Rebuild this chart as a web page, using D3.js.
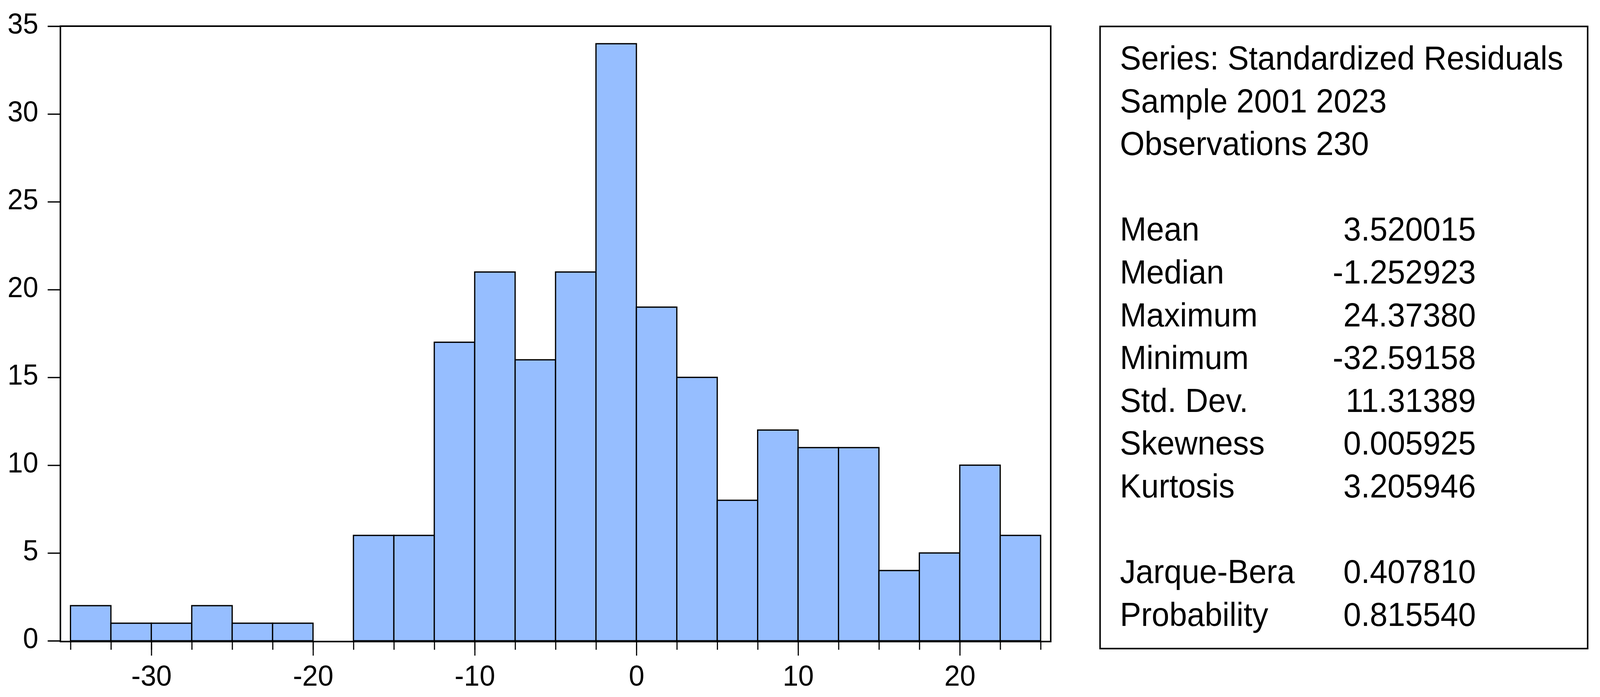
<!DOCTYPE html>
<html>
<head>
<meta charset="utf-8">
<script src="https://cdn.jsdelivr.net/npm/d3@7"></script>
<style>
  html, body { margin: 0; padding: 0; background: #fff; overflow: hidden; }
  #chart { width: 100vw; height: 100vh; }
  svg { display: block; font-family: "Liberation Sans", Arial, sans-serif; }
</style>
</head>
<body>
<div id="chart"></div>
<script>
// histogram bins (lower edge of each bin, width 2.5) and counts
const binStarts = [-35, -32.5, -30, -27.5, -25, -22.5, -20, -17.5, -15, -12.5, -10, -7.5,
                   -5, -2.5, 0, 2.5, 5, 7.5, 10, 12.5, 15, 17.5, 20, 22.5];
const binWidth = 2.5;
const counts = [2, 1, 1, 2, 1, 1, 0, 6, 6, 17, 21, 16,
                21, 34, 19, 15, 8, 12, 11, 11, 4, 5, 10, 6];

const yTicks = [0, 5, 10, 15, 20, 25, 30, 35];
const xMajorTicks = [-30, -20, -10, 0, 10, 20];
const xMinorTicks = [-35, -32.5, -30, -27.5, -25, -22.5, -20, -17.5, -15, -12.5, -10, -7.5,
                     -5, -2.5, 0, 2.5, 5, 7.5, 10, 12.5, 15, 17.5, 20, 22.5, 25];

// statistics panel
const headerLines = ["Series: Standardized Residuals", "Sample 2001 2023", "Observations 230"];
const statLabels = ["Mean", "Median", "Maximum", "Minimum", "Std. Dev.", "Skewness", "Kurtosis"];
const statValues = ["3.520015", "-1.252923", "24.37380", "-32.59158", "11.31389", "0.005925", "3.205946"];
const testLabels = ["Jarque-Bera", "Probability"];
const testValues = ["0.407810", "0.815540"];

const W = 4279, H = 1785;
const barColor = "#96beff";

// drawn in a fixed 4279x1785 coordinate space, stretched to the window
const svg = d3.select("#chart").append("svg")
    .attr("width", "100%")
    .attr("height", "100%")
    .attr("viewBox", `0 0 ${W} ${H}`)
    .attr("preserveAspectRatio", "none");

svg.append("rect").attr("width", W).attr("height", H).attr("fill", "#fff");

const x = d3.scaleLinear().domain([-35, 25]).range([188.5, 2783]);
const y = d3.scaleLinear().domain([0, 35]).range([1641, 67]);

const frameLeft = x(-35) - 27;
const frameRight = x(25) + 27;
const frameTop = y(35);
const frameBottom = y(0) + 2;

// bars
svg.append("g")
    .selectAll("rect")
    .data(binStarts.map((s, i) => ({ start: s, count: counts[i] })).filter(d => d.count > 0))
    .enter()
    .append("rect")
    .attr("x", d => x(d.start))
    .attr("width", d => x(d.start + binWidth) - x(d.start))
    .attr("y", d => y(d.count))
    .attr("height", d => y(0) - y(d.count))
    .attr("fill", barColor)
    .attr("stroke", "#000")
    .attr("stroke-width", 3.3);

// frame
svg.append("rect")
    .attr("x", frameLeft)
    .attr("y", frameTop)
    .attr("width", frameRight - frameLeft)
    .attr("height", frameBottom - frameTop)
    .attr("fill", "none")
    .attr("stroke", "#000")
    .attr("stroke-width", 4);

// y axis
const yAxis = svg.append("g")
    .attr("transform", `translate(${frameLeft},0)`)
    .call(d3.axisLeft(y).tickValues(yTicks).tickSize(34).tickPadding(25));
yAxis.select(".domain").remove();
yAxis.selectAll("line").attr("stroke-width", 3.3);
yAxis.selectAll("text")
    .attr("font-size", 74)
    .attr("font-family", "Liberation Sans, Arial, sans-serif")
    .attr("fill", "#000")
    .attr("dy", "0.25em");

// x axis: minor ticks at bin edges, major ticks with labels
const xMinor = svg.append("g")
    .attr("transform", `translate(0,${frameBottom})`)
    .call(d3.axisBottom(x).tickValues(xMinorTicks).tickSize(21).tickFormat(""));
xMinor.select(".domain").remove();
xMinor.selectAll("line").attr("stroke-width", 3);

const xMajor = svg.append("g")
    .attr("transform", `translate(0,${frameBottom})`)
    .call(d3.axisBottom(x).tickValues(xMajorTicks).tickSize(36).tickPadding(24));
xMajor.select(".domain").remove();
xMajor.selectAll("line").attr("stroke-width", 3);
xMajor.selectAll("text")
    .attr("font-size", 75)
    .attr("font-family", "Liberation Sans, Arial, sans-serif")
    .attr("fill", "#000")
    .text(d => d < 0 ? "-" + Math.abs(d) : d);

// stats box
const boxLeft = 2942, boxRight = 4246, boxTop = 67.7, boxBottom = 1661;
svg.append("rect")
    .attr("x", boxLeft)
    .attr("y", boxTop)
    .attr("width", boxRight - boxLeft)
    .attr("height", boxBottom - boxTop)
    .attr("fill", "#fff")
    .attr("stroke", "#000")
    .attr("stroke-width", 4);

const textLeft = 2995, valueRight = 3947;
const firstBaseline = 178, lineStep = 109.6;
const fontSize = 85;

const rows = [];
headerLines.forEach(t => rows.push({ label: t, value: "" }));
rows.push(null);
statLabels.forEach((t, i) => rows.push({ label: t, value: statValues[i] }));
rows.push(null);
testLabels.forEach((t, i) => rows.push({ label: t, value: testValues[i] }));

const statG = svg.append("g")
    .attr("font-size", fontSize)
    .attr("fill", "#000");

rows.forEach((r, i) => {
    if (!r) return;
    const by = firstBaseline + i * lineStep;
    statG.append("text")
        .attr("x", textLeft)
        .attr("y", by)
        .text(r.label);
    if (r.value) {
        statG.append("text")
            .attr("x", valueRight)
            .attr("y", by)
            .attr("text-anchor", "end")
            .text(r.value);
    }
});
</script>
</body>
</html>
